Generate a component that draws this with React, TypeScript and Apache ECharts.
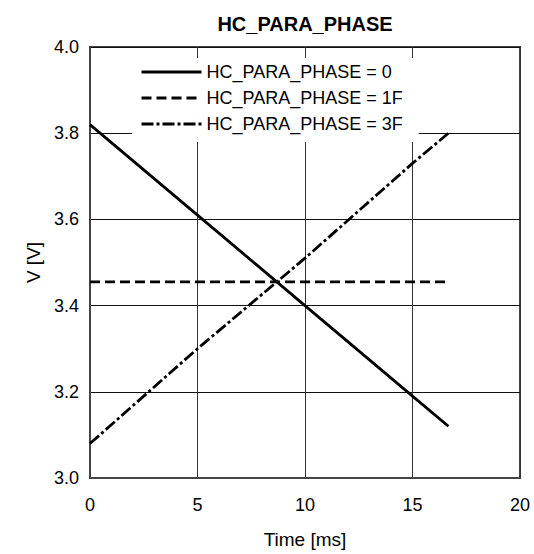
import React, { useEffect, useRef } from "react";
import * as echarts from "echarts";

const titleText = "HC_PARA_PHASE";
const xName = "Time [ms]";
const yName = "V [V]";
const seriesNames = ["HC_PARA_PHASE = 0", "HC_PARA_PHASE = 1F", "HC_PARA_PHASE = 3F"];
const timeMs = [0, 5, 10, 15, 16.67];
const phase0 = [3.82, 3.61, 3.40, 3.19, 3.12];
const phase1F = [3.455, 3.455, 3.455, 3.455, 3.455];
const phase3F = [3.08, 3.30, 3.51, 3.73, 3.80];

const FONT = "'Liberation Sans', Arial, Helvetica, sans-serif";

export default function App() {
  const ref = useRef<HTMLDivElement>(null);
  useEffect(() => {
    document.body.style.margin = "0";
    document.body.style.overflow = "hidden";
    const chart = echarts.init(ref.current!, null, { renderer: "svg" });
    const pair = (ys: number[]) => timeMs.map((t, i) => [t, ys[i]]);
    const values = [phase0, phase1F, phase3F];
    const dashes: any[] = ["solid", [10, 5], [12, 3, 3, 3]];
    chart.setOption({
      animation: false,
      backgroundColor: "#fff",
      textStyle: { fontFamily: FONT },
      graphic: [
        {
          type: "text",
          x: 305,
          y: 24,
          style: {
            text: titleText,
            font: `bold 20px ${FONT}`,
            fill: "#000",
            textAlign: "center",
            textVerticalAlign: "middle",
          },
        },
      ],
      grid: {
        left: 90,
        right: 14,
        top: 47,
        bottom: 75,
        show: true,
        borderColor: "#444",
        borderWidth: 2,
        backgroundColor: "transparent",
      },
      legend: {
        orient: "vertical",
        left: 132,
        top: 58,
        padding: [5, 16, 9, 8],
        backgroundColor: "#fff",
        itemWidth: 60,
        itemHeight: 14,
        itemGap: 8,
        textStyle: { fontSize: 18, color: "#000", fontFamily: FONT, lineHeight: 18 },
        lineStyle: { width: 3 },
        itemStyle: { opacity: 0 },
        data: seriesNames,
      },
      xAxis: {
        type: "value",
        min: 0,
        max: 20,
        interval: 5,
        name: xName,
        nameLocation: "middle",
        nameGap: 52,
        nameTextStyle: { fontSize: 19, color: "#000", fontFamily: FONT },
        axisLine: { show: true, lineStyle: { color: "#444", width: 2 } },
        axisTick: { show: false },
        axisLabel: { fontSize: 18, color: "#000", margin: 18, fontFamily: FONT },
        splitLine: { show: true, lineStyle: { color: "#333", width: 1 } },
      },
      yAxis: {
        type: "value",
        min: 3.0,
        max: 4.0,
        interval: 0.2,
        name: yName,
        nameLocation: "middle",
        nameGap: 46,
        nameTextStyle: { fontSize: 19, color: "#000", fontFamily: FONT },
        axisLine: { show: true, lineStyle: { color: "#444", width: 2 } },
        axisTick: { show: false },
        axisLabel: {
          fontSize: 18,
          color: "#000",
          margin: 11,
          fontFamily: FONT,
          formatter: (v: number) => v.toFixed(1),
        },
        splitLine: { show: true, lineStyle: { color: "#111", width: 1 } },
      },
      series: seriesNames.map((name, i) => ({
        name,
        type: "line",
        data: pair(values[i]),
        symbol: "none",
        color: "#000",
        lineStyle: { color: "#000", width: 2.8, type: dashes[i] },
      })),
    });
    return () => chart.dispose();
  }, []);
  return <div ref={ref} style={{ width: 534, height: 554 }} />;
}
